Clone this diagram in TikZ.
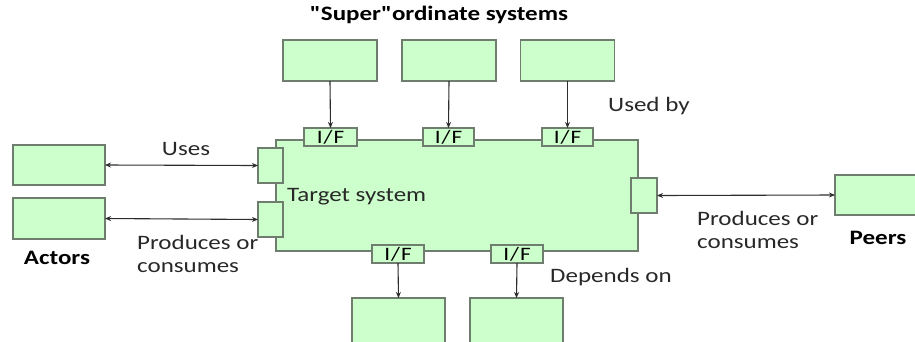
\documentclass[tikz,border=0pt]{standalone}
\usepackage{fontspec}
\setmainfont{Carlito}[FakeStretch=1.22]
\newfontfamily\plainq{Carlito}[FakeStretch=1.22, Ligatures=TeXOff]
\usetikzlibrary{arrows.meta}
\definecolor{boxfill}{RGB}{204,255,204}
\definecolor{boxline}{RGB}{110,125,110}
\definecolor{arrowcol}{RGB}{45,45,45}
\definecolor{txt}{RGB}{40,40,40}
\tikzset{
  box/.style={draw=boxline, fill=boxfill, line width=1.3pt, inner sep=0pt, outer sep=0pt},
  lbl/.style={text=txt, font=\fontsize{20.5}{23}\selectfont, inner sep=0pt},
  blbl/.style={text=black, font=\bfseries\fontsize{20.5}{23}\selectfont, inner sep=0pt},
  iftext/.style={font=\fontsize{19}{19}\selectfont, text=black},
  arr/.style={draw=arrowcol, line width=1.1pt, -{Stealth[length=6pt,width=5pt]}},
  darr/.style={draw=arrowcol, line width=1.1pt, {Stealth[length=6pt,width=5pt]}-{Stealth[length=6pt,width=5pt]}}
}
\begin{document}
\begin{tikzpicture}[x=1pt,y=-1pt]
\useasboundingbox (0,0) rectangle (915,341);
\clip (0,0) rectangle (915,341);
% target system
\node[box, minimum width=362pt, minimum height=111pt] (target) at (457,195.5) {};
% superordinate boxes
\node[box, minimum width=94pt, minimum height=41pt] (s1) at (330,60.5) {};
\node[box, minimum width=94pt, minimum height=41pt] (s2) at (449,60.5) {};
\node[box, minimum width=94pt, minimum height=41pt] (s3) at (567.5,60.5) {};
% top I/F
\node[box, minimum width=53pt, minimum height=18pt] (if1) at (330.5,137) {};
\node[box, minimum width=51pt, minimum height=18pt] (if2) at (448.5,137) {};
\node[box, minimum width=51pt, minimum height=18pt] (if3) at (567.5,137) {};
\node[iftext] at (if1) {I\kern1pt/\kern1pt F};
\node[iftext] at (if2) {I\kern1pt/\kern1pt F};
\node[iftext] at (if3) {I\kern1pt/\kern1pt F};
% left ports
\node[box, minimum width=25pt, minimum height=35pt] (lp1) at (270.5,165.5) {};
\node[box, minimum width=25pt, minimum height=35pt] (lp2) at (270.5,219.5) {};
% right port
\node[box, minimum width=26pt, minimum height=35pt] (rp) at (644,195.5) {};
% bottom I/F
\node[box, minimum width=52pt, minimum height=18pt] (if4) at (398,254) {};
\node[box, minimum width=52pt, minimum height=18pt] (if5) at (517,254) {};
\node[iftext] at (if4) {I\kern1pt/\kern1pt F};
\node[iftext] at (if5) {I\kern1pt/\kern1pt F};
% actors
\node[box, minimum width=92pt, minimum height=40pt] (a1) at (59,165) {};
\node[box, minimum width=92pt, minimum height=41pt] (a2) at (59,218.5) {};
% peer
\node[box, minimum width=100pt, minimum height=40pt] (peer) at (885,195) {};
% dependencies
\node[box, minimum width=93pt, minimum height=60pt] (d1) at (398.5,328) {};
\node[box, minimum width=93pt, minimum height=60pt] (d2) at (516.5,328) {};
% arrows
\draw[arr] (s1.south) -- (if1.north);
\draw[arr] (s2.south) -- (if2.north);
\draw[arr] (s3.south) -- (if3.north);
\draw[arr] (if4.south) -- (d1.north);
\draw[arr] (if5.south) -- (d2.north);
\draw[darr] (a1.east) -- (lp1.west);
\draw[darr] (a2.east) -- (lp2.west);
\draw[darr] (rp.east) -- (peer.west);
% labels
\node[blbl, font=\plainq\bfseries\fontsize{20.5}{23}\selectfont] (tsuper) at (439,15) {"Super"ordinate systems};
\node[lbl, anchor=west] (tused) at (608,106) {Used by};
\node[lbl] (tuses) at (186,149) {Uses};
\node[lbl, anchor=west] (ttarget) at (287,197) {Target system};
\node[lbl, anchor=west, align=left] (tpc1) at (137,254) {Produces or\\consumes};
\node[blbl] (tactors) at (57,258) {Actors};
\node[lbl, anchor=west, align=left] (tpc2) at (697,230) {Produces or\\consumes};
\node[blbl] (tpeers) at (878,238) {Peers};
\node[lbl, anchor=west] (tdep) at (550,277) {Depends on};
\end{tikzpicture}
\end{document}
